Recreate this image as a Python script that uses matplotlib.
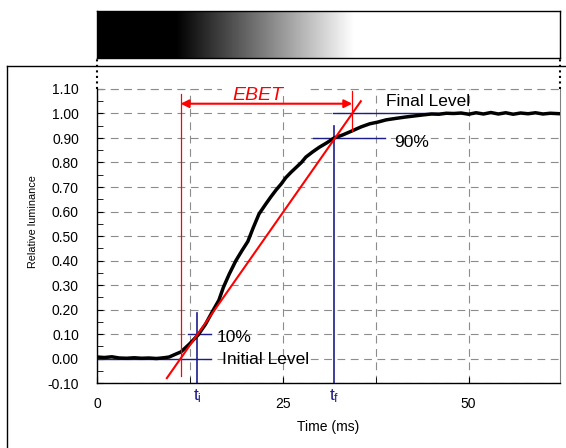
import numpy as np
import matplotlib
matplotlib.use("Agg")
from matplotlib import pyplot as plt
from matplotlib.lines import Line2D
from matplotlib.patches import Rectangle

plt.rcParams['font.family'] = ['Liberation Sans', 'DejaVu Sans']
plt.rcParams['mathtext.fontset'] = 'custom'
plt.rcParams['mathtext.rm'] = 'Liberation Sans'
plt.rcParams['mathtext.it'] = 'Liberation Sans:italic'

# measured luminance response (time in ms, relative luminance)
time_ms = [0, 1, 2, 3, 4, 5, 6, 7, 8, 9, 9.7, 10.6, 11.3, 12.4, 13.6, 14.6, 15.5, 16.4,
           17.0, 17.8, 18.7, 19.5, 20.3, 21.0, 21.8, 22.7, 23.4, 24.1, 24.8, 25.4, 26.1,
           26.8, 27.5, 28.1, 29.0, 29.9, 30.9, 31.9, 33.1, 34.4, 35.5, 36.7, 37.8, 38.9,
           40.2, 41.6, 42.7, 43.8, 45, 46, 47, 48, 49, 50, 51, 52, 53, 54, 55, 56, 57,
           58, 59, 60, 61, 62.3]
luminance = [0.006, 0.004, 0.007, 0.002, 0.001, 0.003, 0.001, 0.002, 0.000, 0.003, 0.006,
             0.018, 0.027, 0.058, 0.096, 0.140, 0.190, 0.238, 0.290, 0.345, 0.400, 0.440,
             0.478, 0.532, 0.590, 0.630, 0.660, 0.688, 0.713, 0.738, 0.760, 0.780, 0.800,
             0.822, 0.843, 0.862, 0.880, 0.900, 0.913, 0.930, 0.945, 0.958, 0.965, 0.974,
             0.980, 0.986, 0.990, 0.994, 0.998, 0.997, 1.001, 1.000, 1.002, 0.997, 1.003,
             0.998, 1.004, 0.998, 1.003, 0.997, 1.002, 0.999, 1.003, 0.998, 1.001, 0.999]

# EBET fit line and its intersections
fit_t = [9.4, 35.5]
fit_v = [-0.08, 1.05]
ebet_start, ebet_end = 11.25, 34.35
t_i, t_f = 13.5, 31.9
x_max = 62.3

# gradient bar (black -> white)
grad_black, grad_white = 10.6, 34.6

W, H = 566, 448
fig = plt.figure(figsize=(W / 100, H / 100), dpi=100)
ax = fig.add_axes([97 / W, 65 / H, 463 / W, 294 / H])

navy = '#1c1c8c'
grid_kw = dict(color='#8c8c8c', lw=0.8, ls=(0, (7, 5)))

ax.set_xlim(0, x_max)
ax.set_ylim(-0.10, 1.10)
yt = np.round(np.arange(-0.1, 1.101, 0.1), 2)
ax.set_yticks(yt)
ax.set_yticks(np.arange(-0.05, 1.1, 0.1), minor=True)
ax.set_yticklabels(['%.2f' % v for v in yt])
ax.set_xticks([0, 25, 50])
ax.set_xticks([12.5, 37.5], minor=True)
ax.tick_params(axis='y', which='both', direction='in', length=4, pad=13, labelsize=10)
ax.tick_params(axis='x', which='both', direction='in', length=4, pad=10, labelsize=10)

ax.yaxis.grid(True, which='major', **grid_kw)
ax.xaxis.grid(True, which='both', **grid_kw)
ax.axhline(1.10, clip_on=False, zorder=1, **grid_kw)
ax.set_axisbelow(True)

ax.spines['top'].set_visible(False)
ax.spines['right'].set_color('#808080')
for s in ['left', 'bottom']:
    ax.spines[s].set_linewidth(1.0)

# blue level lines
ax.plot([31.7, 50], [1.0, 1.0], color=navy, lw=1.0, zorder=2)
ax.plot([29.0, 38.8], [0.9, 0.9], color=navy, lw=1.0, zorder=2)
ax.plot([t_f, t_f], [0.95, -0.10], color=navy, lw=1.2, zorder=2)
ax.plot([12.3, 15.3], [0.1, 0.1], color=navy, lw=1.0, zorder=2)
ax.plot([0, 15.3], [0.0, 0.0], color=navy, lw=1.0, zorder=2)
ax.plot([t_i, t_i], [0.185, -0.10], color=navy, lw=1.2, zorder=2)

# measured curve
ax.plot(time_ms, luminance, color='black', lw=2.5, zorder=3)

# EBET construction
ax.plot(fit_t, fit_v, color='red', lw=1.5, zorder=4)
ax.plot([ebet_start, ebet_start], [-0.07, 1.08], color='red', lw=0.9, zorder=4)
ax.plot([ebet_end, ebet_end], [0.93, 1.09], color='red', lw=0.9, zorder=4)
ax.annotate('', xy=(ebet_start, 1.04), xytext=(ebet_end, 1.04),
            arrowprops=dict(arrowstyle='<|-|>', color='red', lw=1.5,
                            mutation_scale=12, shrinkA=0, shrinkB=0), zorder=4)
ax.add_patch(Rectangle((16.8, 1.07), 11.4, 0.06, facecolor='white', edgecolor='none',
                       clip_on=False, zorder=2.5))
ax.text(21.6, 1.056, 'EBET', color='red', fontsize=14, style='italic',
        ha='center', va='baseline', zorder=5)

ax.text(38.9, 1.03, 'Final Level', fontsize=12.5, ha='left', va='baseline')
ax.text(40.0, 0.865, '90%', fontsize=12.5, ha='left', va='baseline')
ax.text(16.1, 0.067, '10%', fontsize=12.5, ha='left', va='baseline')
ax.text(16.8, -0.022, 'Initial Level', fontsize=12.5, ha='left', va='baseline')
ax.text(t_i, -0.171, r'$\mathrm{t_i}$', fontsize=12.5, color=navy, ha='center',
        va='baseline', clip_on=False)
ax.text(t_f, -0.171, r'$\mathrm{t_f}$', fontsize=12.5, color=navy, ha='center',
        va='baseline', clip_on=False)

ax.set_xlabel('Time (ms)', fontsize=10)
ax.set_ylabel('Relative luminance', fontsize=7.8)
ax.xaxis.set_label_coords(0.5, -0.125)
ax.yaxis.set_label_coords(-0.128, 0.548)

# gradient bar above the chart
ax2 = fig.add_axes([97 / W, (H - 58) / H, 463 / W, 47 / H])
tt = np.linspace(0, x_max, 600)
shade = np.clip((tt - grad_black) / (grad_white - grad_black), 0, 1)
ax2.imshow(shade[None, :], cmap='gray', vmin=0, vmax=1, aspect='auto',
           extent=[0, x_max, 0, 1])
ax2.set_xticks([])
ax2.set_yticks([])
for s in ax2.spines.values():
    s.set_linewidth(1.0)

# dotted connectors and outer frame
for xp in [97, 560]:
    fig.add_artist(Line2D([xp / W, xp / W], [(H - 89) / H, (H - 58) / H],
                          color='black', ls=':', lw=1.5))
fig.add_artist(Line2D([7 / W, 7 / W], [0, (H - 66) / H], color='black', lw=1.0))
fig.add_artist(Line2D([7 / W, 1], [(H - 66) / H, (H - 66) / H], color='black', lw=1.0))

fig.savefig('out.png', dpi=100)
